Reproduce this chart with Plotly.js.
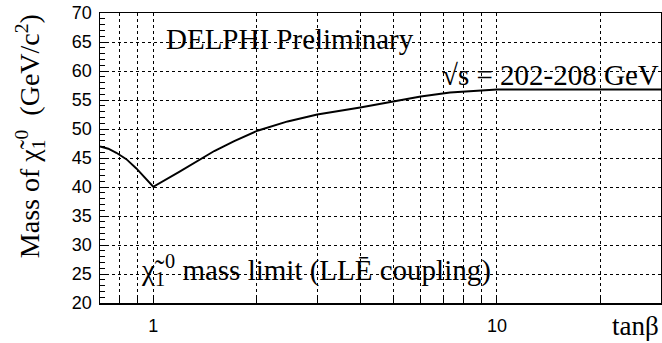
<!DOCTYPE html>
<html>
<head>
<meta charset="utf-8">
<script src="https://cdn.plot.ly/plotly-3.0.1.min.js"></script>
<style>html,body{margin:0;padding:0;background:#fff;}#chart{width:662px;height:343px;}</style>
</head>
<body>
<div id="chart"></div>
<script>
var tanBeta = [0.7, 0.74, 0.781, 0.835, 0.893, 0.954, 1.0, 1.19, 1.377, 1.505, 1.72, 2.01, 2.46, 3.0, 4.0, 5.0, 6.0, 7.3, 8.93, 10, 15, 20, 30];
var massLimit = [47.0, 46.6, 45.9, 44.8, 43.2, 41.3, 40.05, 42.6, 44.9, 46.2, 47.9, 49.7, 51.3, 52.5, 53.7, 54.7, 55.6, 56.3, 56.7, 56.8, 56.8, 56.8, 56.8];
var xGridVals = [0.8, 0.9, 1, 2, 3, 4, 5, 6, 7, 8, 9, 10, 20];
var xGridText = ['', '', '1', '', '', '', '', '', '', '', '', '10', ''];

var serif = 'Liberation Serif, Times New Roman, serif';
var sans = 'Liberation Sans, Arial, sans-serif';

var trace = {
  x: tanBeta, y: massLimit, type: 'scatter', mode: 'lines',
  line: {color: '#000', width: 1.9}, hoverinfo: 'skip'
};

var layout = {
  width: 662, height: 343,
  margin: {l: 100, r: 1, t: 13, b: 40},
  paper_bgcolor: '#fff', plot_bgcolor: '#fff',
  showlegend: false,
  xaxis: {
    type: 'log', range: [Math.log10(0.7), Math.log10(30)],
    tickmode: 'array', tickvals: xGridVals, ticktext: xGridText,
    ticks: 'inside', ticklen: 5, tickcolor: '#000', tickwidth: 1,
    showgrid: true, gridcolor: '#000', gridwidth: 1, griddash: 'dot',
    showline: true, linecolor: '#000', linewidth: 1.5, mirror: true,
    zeroline: false,
    tickfont: {family: sans, size: 18, color: '#000'},
    ticklabelstandoff: 6
  },
  yaxis: {
    range: [20, 70], tickmode: 'linear', tick0: 20, dtick: 5,
    ticks: 'inside', ticklen: 9, tickcolor: '#000', tickwidth: 1,
    minor: {dtick: 1, ticks: 'inside', ticklen: 5, tickcolor: '#000', showgrid: false},
    showgrid: true, gridcolor: '#000', gridwidth: 1, griddash: 'dot',
    showline: true, linecolor: '#000', linewidth: 1.5, mirror: true,
    zeroline: false,
    tickfont: {family: sans, size: 18, color: '#000'},
    ticklabelstandoff: 3
  },
  annotations: [
    {text: 'DELPHI Preliminary', xref: 'paper', yref: 'paper', x: 0.114, y: 0.91,
     xanchor: 'left', yanchor: 'middle', showarrow: false,
     font: {family: serif, size: 29, color: '#000'}},
    {text: '√s = 202-208 GeV', xref: 'paper', yref: 'paper', x: 1.0, y: 0.785,
     xanchor: 'right', yanchor: 'middle', showarrow: false,
     font: {family: serif, size: 29, color: '#000'}},
    {text: 'χ̃<sub>1</sub><sup>0</sup> mass limit (LLĒ coupling)', xref: 'paper', yref: 'paper', x: 0.07, y: 0.115,
     xanchor: 'left', yanchor: 'middle', showarrow: false,
     font: {family: serif, size: 29, color: '#000'}},
    {text: 'tanβ', xref: 'paper', yref: 'paper', x: 1.0, y: -0.08,
     xanchor: 'right', yanchor: 'middle', showarrow: false,
     font: {family: serif, size: 27, color: '#000'}},
    {text: 'Mass of χ̃<sub>1</sub><sup>0</sup>  (GeV/c<sup>2</sup>)', xref: 'paper', yref: 'paper', x: -0.125, y: 0.575,
     xanchor: 'center', yanchor: 'middle', textangle: -90, showarrow: false,
     font: {family: serif, size: 28, color: '#000'}}
  ]
};

Plotly.newPlot('chart', [trace], layout, {displayModeBar: false, staticPlot: true});
</script>
</body>
</html>
